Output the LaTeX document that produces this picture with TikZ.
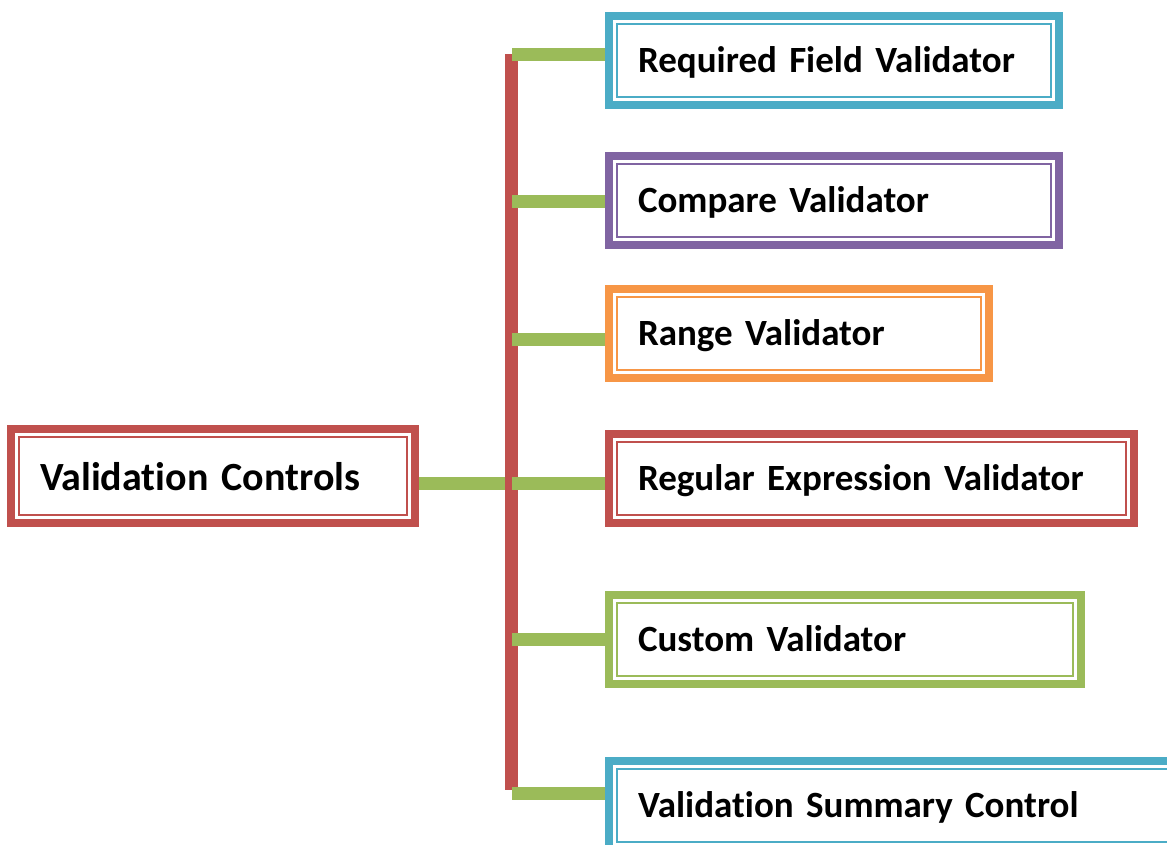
\documentclass[tikz,border=0pt]{standalone}
\usepackage{fontspec}
\setmainfont{Carlito}[Ligatures=NoCommon,WordSpace=0.85]
\definecolor{vred}{HTML}{C0504D}
\definecolor{vblue}{HTML}{4BACC6}
\definecolor{vpurple}{HTML}{8064A2}
\definecolor{vorange}{HTML}{F79646}
\definecolor{vgreen}{HTML}{9BBB59}
\begin{document}
\begin{tikzpicture}[x=1pt,y=-1pt,
  vbox/.style={draw=#1, line width=8pt, outer sep=0pt, inner xsep=29pt, inner ysep=0pt,
    minimum height=89pt, align=left, text height=24pt, text depth=0pt,
    font=\fontsize{37}{41}\selectfont\bfseries,
    append after command={\pgfextra{\pgfinterruptpath
      \draw[#1, line width=2pt] ([shift={(8pt,-8pt)}]\tikzlastnode.north west)
        rectangle ([shift={(-8pt,8pt)}]\tikzlastnode.south east);
      \endpgfinterruptpath}}},
  twig/.style={draw=vgreen, line width=13pt},
  trunk/.style={draw=vred, line width=13pt}]
\useasboundingbox (0,0) rectangle (1167,844);
\node[vbox=vred, minimum height=94pt, text width=346pt, text height=28pt,
  font=\fontsize{40}{45}\selectfont\bfseries] (vc) at (213,476) {Validation Controls};
\node[vbox=vblue, text width=392pt] (rfv) at (834,60) {Required Field Validator};
\node[vbox=vpurple, text width=392pt] (cv) at (834,200) {Compare Validator};
\node[vbox=vorange, text width=322pt] (rv) at (799,333.5) {Range Validator};
\node[vbox=vred, text width=467pt] (rev) at (871.5,478.5) {Regular Expression Validator};
\node[vbox=vgreen, text width=414pt] (cuv) at (845,639.5) {Custom Validator};
\node[vbox=vblue, text width=519pt] (vsc) at (897.5,805) {Validation Summary Control};
% the red stem and its green twigs
\coordinate (bartop) at (511.5,54);
\coordinate (barbot) at (511.5,790);
\coordinate (m1) at ([shift={(4pt,-7pt)}]vc.east);
\draw[twig] (m1) -- (m1 -| bartop);
\draw[trunk] (bartop) -- (barbot);
\coordinate (b1) at ([shift={(-4pt,6pt)}]rfv.west);
\coordinate (b2) at ([shift={(-4pt,-1pt)}]cv.west);
\coordinate (b3) at ([shift={(-4pt,-5.5pt)}]rv.west);
\coordinate (b4) at ([shift={(-4pt,-4.5pt)}]rev.west);
\coordinate (b5) at ([shift={(-4pt,0pt)}]cuv.west);
\coordinate (b6) at ([shift={(-4pt,12pt)}]vsc.west);
\draw[twig] (b1) -- (b1 -| bartop);
\draw[twig] (b2) -- (b2 -| bartop);
\draw[twig] (b3) -- (b3 -| bartop);
\draw[twig] (b4) -- (b4 -| bartop);
\draw[twig] (b5) -- (b5 -| bartop);
\draw[twig] (b6) -- (b6 -| bartop);
\end{tikzpicture}
\end{document}
